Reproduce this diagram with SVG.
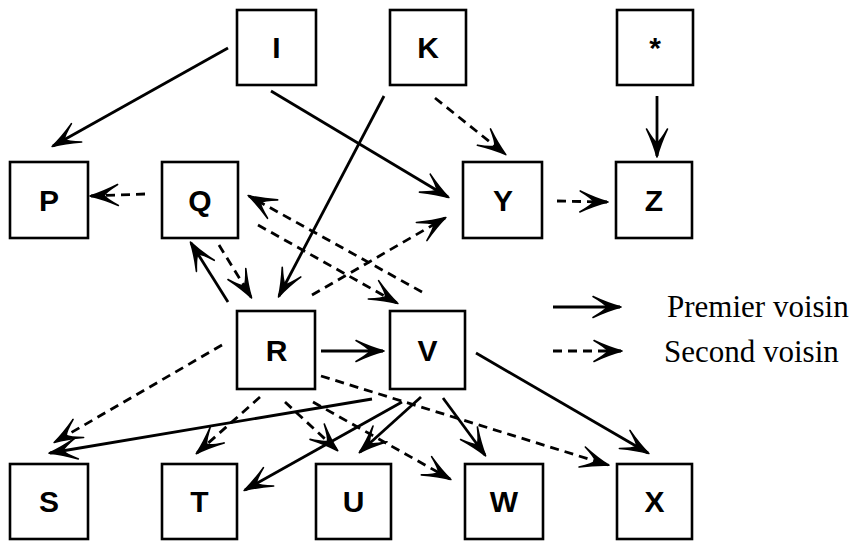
<svg xmlns="http://www.w3.org/2000/svg" width="856" height="541" viewBox="0 0 856 541">
<defs>
<style>
.box{fill:#fff;stroke:#000;stroke-width:2.6}
.lbl{font-family:"Liberation Sans",Arial,sans-serif;font-weight:bold;font-size:30px;text-anchor:middle;fill:#000}
.e{fill:none;stroke:#000;stroke-width:2.8;marker-end:url(#ah)}
.d{stroke-dasharray:9 6}
.leg{font-family:"Liberation Serif","Times New Roman",serif;font-size:31px;fill:#000}
</style>
<marker id="ah" markerUnits="userSpaceOnUse" markerWidth="40" markerHeight="30" refX="0" refY="0" orient="auto" overflow="visible" viewBox="-30 -15 40 30">
<path d="M1,0 Q-12,-3.5 -27,-10.5 Q-15,-3.5 -13,0 Q-15,3.5 -27,10.5 Q-12,3.5 1,0 Z" fill="#000" stroke="#000" stroke-width="1.6" stroke-linejoin="round"/>
</marker>
</defs>
<rect width="856" height="541" fill="#fff"/>
<g id="connectors">
<line class="e" x1="228" y1="48" x2="53" y2="146"/>
<line class="e" x1="271" y1="91" x2="448" y2="197"/>
<line class="e" x1="384" y1="96" x2="279" y2="296"/>
<line class="e d" x1="435" y1="98" x2="505" y2="154"/>
<line class="e" x1="657" y1="96" x2="657" y2="156"/>
<line class="e d" x1="557" y1="201" x2="607" y2="202"/>
<line class="e d" x1="145" y1="194" x2="91" y2="196"/>
<line class="e d" x1="422" y1="292" x2="249" y2="196"/>
<line class="e d" x1="258" y1="225" x2="397" y2="303"/>
<line class="e d" x1="312" y1="295" x2="445" y2="218"/>
<line class="e" x1="228" y1="302" x2="191" y2="243"/>
<line class="e d" x1="219" y1="245" x2="251" y2="297"/>
<line class="e" x1="321" y1="351" x2="383" y2="351"/>
<line class="e" x1="476" y1="353" x2="648" y2="453"/>
<line class="e d" x1="222" y1="345" x2="55" y2="442"/>
<line class="e" x1="372" y1="399" x2="50" y2="453"/>
<line class="e d" x1="260" y1="397" x2="197" y2="453"/>
<line class="e d" x1="285" y1="402" x2="337" y2="450"/>
<line class="e" x1="402" y1="402" x2="245" y2="490"/>
<line class="e" x1="421" y1="397" x2="360" y2="452"/>
<line class="e d" x1="313" y1="402" x2="450" y2="479"/>
<line class="e d" x1="321" y1="376" x2="608" y2="465"/>
<line class="e" x1="443" y1="398" x2="485" y2="455"/>
</g>
<g id="legend">
<line class="e" x1="553" y1="307" x2="620" y2="307"/>
<line class="e d" x1="553" y1="351" x2="621" y2="351"/>
<text class="leg" x="667" y="317">Premier voisin</text>
<text class="leg" x="664" y="362">Second voisin</text>
</g>
<g id="node-I"><rect class="box" x="237" y="10" width="79" height="75"/><text class="lbl" x="276.5" y="58">I</text></g>
<g id="node-K"><rect class="box" x="390" y="10" width="76" height="75"/><text class="lbl" x="428" y="58">K</text></g>
<g id="node-star"><rect class="box" x="617" y="10" width="76" height="75"/><text class="lbl" x="655" y="58">*</text></g>
<g id="node-P"><rect class="box" x="10" y="162" width="78" height="76"/><text class="lbl" x="49" y="210.5">P</text></g>
<g id="node-Q"><rect class="box" x="162" y="162" width="76" height="76"/><text class="lbl" x="200" y="210.5">Q</text></g>
<g id="node-Y"><rect class="box" x="463" y="162" width="79" height="76"/><text class="lbl" x="503" y="210.5">Y</text></g>
<g id="node-Z"><rect class="box" x="616" y="162" width="76" height="76"/><text class="lbl" x="654" y="210.5">Z</text></g>
<g id="node-R"><rect class="box" x="237" y="311" width="78" height="78"/><text class="lbl" x="276.5" y="361">R</text></g>
<g id="node-V"><rect class="box" x="390" y="311" width="75" height="78"/><text class="lbl" x="427.5" y="361">V</text></g>
<g id="node-S"><rect class="box" x="10" y="464" width="78" height="75"/><text class="lbl" x="49" y="512">S</text></g>
<g id="node-T"><rect class="box" x="162" y="464" width="75" height="75"/><text class="lbl" x="199.5" y="512">T</text></g>
<g id="node-U"><rect class="box" x="316" y="464" width="75" height="75"/><text class="lbl" x="353.5" y="512">U</text></g>
<g id="node-W"><rect class="box" x="465" y="464" width="78" height="75"/><text class="lbl" x="504" y="512">W</text></g>
<g id="node-X"><rect class="box" x="617" y="464" width="75" height="75"/><text class="lbl" x="654.5" y="512">X</text></g>
</svg>
